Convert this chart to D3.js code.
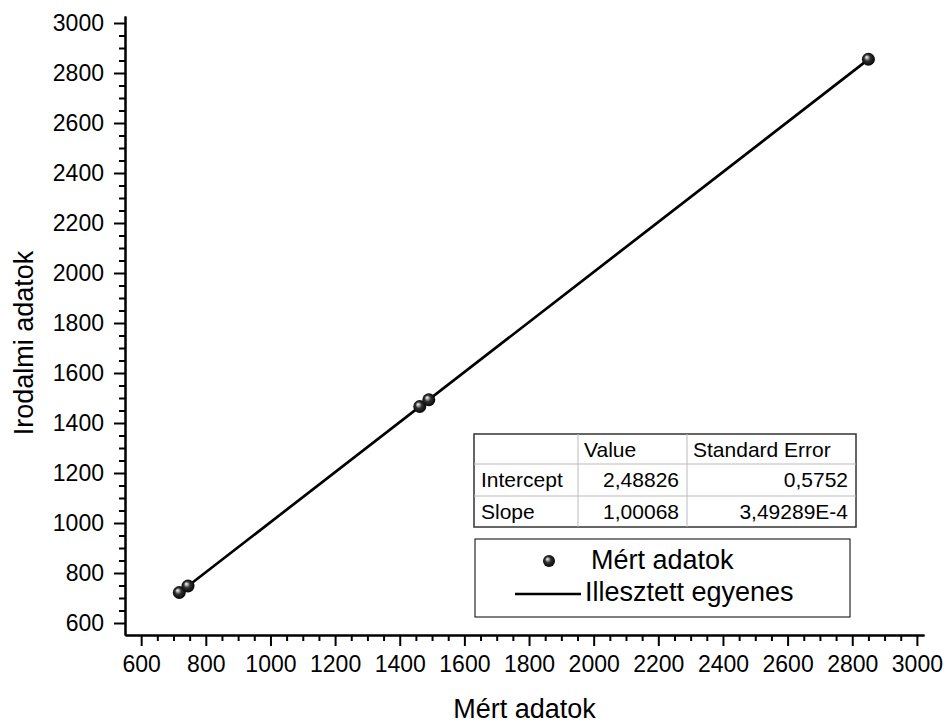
<!DOCTYPE html>
<html>
<head>
<meta charset="utf-8">
<script src="https://cdn.jsdelivr.net/npm/d3@7"></script>
<style>
  html, body { margin: 0; padding: 0; background: #fff; }
  svg { display: block; font-family: "Liberation Sans", Arial, sans-serif; }
</style>
</head>
<body>
<svg id="chart" width="944" height="724"></svg>
<script>
// ---- data ----
const measured = [718, 745, 1462, 1490, 2850];      // Mért adatok (x)
const literature = [722, 748, 1466, 1493, 2855];    // Irodalmi adatok (y)
const fitIntercept = 2.48826;
const fitSlope = 1.00068;
const xTicks = [600, 800, 1000, 1200, 1400, 1600, 1800, 2000, 2200, 2400, 2600, 2800, 3000];
const yTicks = [600, 800, 1000, 1200, 1400, 1600, 1800, 2000, 2200, 2400, 2600, 2800, 3000];
const tableHeader = ["", "Value", "Standard Error"];
const tableRows = [["Intercept", "2,48826", "0,5752"], ["Slope", "1,00068", "3,49289E-4"]];
const legendLabels = ["Mért adatok", "Illesztett egyenes"];
const xTitle = "Mért adatok";
const yTitle = "Irodalmi adatok";

const svg = d3.select("#chart");
const x = d3.scaleLinear().domain([550, 3022]).range([125, 924]);
const y = d3.scaleLinear().domain([552, 3028]).range([635, 16]);

// gradient for spheres
const defs = svg.append("defs");
const grad = defs.append("radialGradient").attr("id", "sphere")
  .attr("cx", "50%").attr("cy", "50%").attr("r", "55%")
  .attr("fx", "35%").attr("fy", "32%");
grad.append("stop").attr("offset", "0%").attr("stop-color", "#ffffff");
grad.append("stop").attr("offset", "18%").attr("stop-color", "#b0b0b0");
grad.append("stop").attr("offset", "45%").attr("stop-color", "#303030");
grad.append("stop").attr("offset", "100%").attr("stop-color", "#000000");

// minor ticks
const minorX = d3.range(600, 3001, 50).filter(v => v % 200 !== 0);
const minorY = d3.range(600, 3001, 50).filter(v => v % 200 !== 0);

const gx = svg.append("g").attr("transform", "translate(0,635)");
gx.call(d3.axisBottom(x).tickValues(minorX).tickSize(6).tickFormat("").tickSizeOuter(0));
const gx2 = svg.append("g").attr("transform", "translate(0,635)");
gx2.call(d3.axisBottom(x).tickValues(xTicks).tickSize(11).tickPadding(10).tickSizeOuter(0).tickFormat(d3.format("d")));

const gy = svg.append("g").attr("transform", "translate(125,0)");
gy.call(d3.axisLeft(y).tickValues(minorY).tickSize(6).tickFormat("").tickSizeOuter(0));
const gy2 = svg.append("g").attr("transform", "translate(125,0)");
gy2.call(d3.axisLeft(y).tickValues(yTicks).tickSize(11).tickPadding(10).tickSizeOuter(0).tickFormat(d3.format("d")));

svg.selectAll(".domain").attr("stroke", "#000").attr("stroke-width", 2);
svg.selectAll(".tick line").attr("stroke", "#000").attr("stroke-width", 2);
svg.selectAll(".tick text").attr("fill", "#000").style("font-size", "23px")
  .style("font-family", "'Liberation Sans', Arial, sans-serif");

// axis titles
svg.append("text").attr("x", (125 + 924) / 2).attr("y", 718).attr("text-anchor", "middle")
  .style("font-size", "27px").text(xTitle);
svg.append("text").attr("transform", "translate(33,343) rotate(-90)").attr("text-anchor", "middle")
  .style("font-size", "27px").text(yTitle);

// fit line
const xMin = d3.min(measured), xMax = d3.max(measured);
svg.append("line")
  .attr("x1", x(xMin)).attr("y1", y(fitIntercept + fitSlope * xMin))
  .attr("x2", x(xMax)).attr("y2", y(fitIntercept + fitSlope * xMax))
  .attr("stroke", "#000").attr("stroke-width", 2.7);

// points
svg.append("g").selectAll("circle").data(measured).join("circle")
  .attr("cx", d => x(d)).attr("cy", (d, i) => y(literature[i]))
  .attr("r", 6.5).attr("fill", "url(#sphere)");

// table
const tbl = svg.append("g");
const colX = [474, 578, 687, 856];
const rowY = [434, 464, 496, 527];
tbl.append("rect").attr("x", colX[0]).attr("y", rowY[0]).attr("width", colX[3] - colX[0])
  .attr("height", rowY[3] - rowY[0]).attr("fill", "#fff").attr("stroke", "#333").attr("stroke-width", 1.5);
[1, 2].forEach(i => {
  tbl.append("line").attr("x1", colX[i]).attr("x2", colX[i]).attr("y1", rowY[0]).attr("y2", rowY[3])
    .attr("stroke", "#bbb").attr("stroke-width", 1);
  tbl.append("line").attr("x1", colX[0]).attr("x2", colX[3]).attr("y1", rowY[i]).attr("y2", rowY[i])
    .attr("stroke", "#bbb").attr("stroke-width", 1);
});
const tfs = "21px";
tableHeader.forEach((t, i) => {
  if (!t) return;
  tbl.append("text").attr("x", colX[i] + 6).attr("y", rowY[0] + 23).style("font-size", tfs).text(t);
});
tableRows.forEach((row, r) => {
  const by = rowY[r + 1] + 23;
  tbl.append("text").attr("x", colX[0] + 7).attr("y", by).style("font-size", tfs).text(row[0]);
  tbl.append("text").attr("x", colX[2] - 8).attr("y", by).attr("text-anchor", "end").style("font-size", tfs).text(row[1]);
  tbl.append("text").attr("x", colX[3] - 8).attr("y", by).attr("text-anchor", "end").style("font-size", tfs).text(row[2]);
});

// legend
const lg = svg.append("g");
lg.append("rect").attr("x", 475).attr("y", 539).attr("width", 375).attr("height", 78)
  .attr("fill", "#fff").attr("stroke", "#000").attr("stroke-width", 1);
lg.append("circle").attr("cx", 549).attr("cy", 561).attr("r", 6).attr("fill", "url(#sphere)");
lg.append("text").attr("x", 591).attr("y", 569).style("font-size", "27px").text(legendLabels[0]);
lg.append("line").attr("x1", 515).attr("x2", 581).attr("y1", 594).attr("y2", 594)
  .attr("stroke", "#000").attr("stroke-width", 2.5);
lg.append("text").attr("x", 585).attr("y", 601).style("font-size", "27px").text(legendLabels[1]);
</script>
</body>
</html>
